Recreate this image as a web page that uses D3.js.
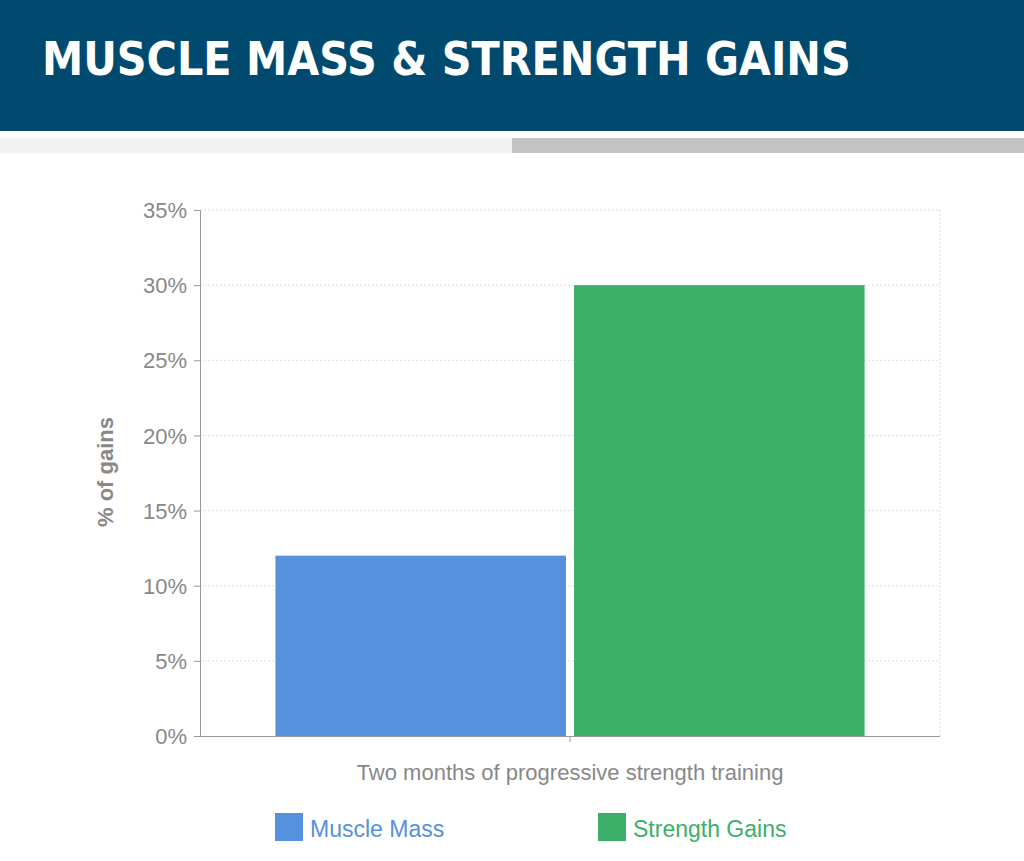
<!DOCTYPE html>
<html>
<head>
<meta charset="utf-8">
<script src="https://cdn.jsdelivr.net/npm/d3@7"></script>
<style>
  body { margin: 0; background: #fff; }
  svg { display: block; }
</style>
</head>
<body>
<svg id="chart" width="1024" height="861"></svg>
<script>
// data
const categories = ['Two months of progressive strength training'];
const seriesNames = ['Muscle Mass', 'Strength Gains'];
const seriesValues = [12, 30];
const seriesColors = ['#5591dc', '#3caf68'];
const yTicks = [0, 5, 10, 15, 20, 25, 30, 35];

const svg = d3.select('#chart');

// header
svg.append('rect').attr('x', 0).attr('y', 0).attr('width', 1024).attr('height', 131).attr('fill', '#004a70');
svg.append('rect').attr('x', 0).attr('y', 138).attr('width', 512).attr('height', 15).attr('fill', '#f2f2f2');
svg.append('rect').attr('x', 512).attr('y', 138).attr('width', 512).attr('height', 15).attr('fill', '#c4c4c4');
svg.append('text').attr('x', 42).attr('y', 75)
  .attr('fill', '#fff').attr('font-family', 'DejaVu Sans Condensed, sans-serif')
  .attr('font-weight', 'bold').attr('font-size', 46)
  .text('MUSCLE MASS & STRENGTH GAINS');

// scales
const x0 = d3.scaleBand().domain(categories).range([200, 940]).paddingOuter(0.128).paddingInner(0);
const x1 = d3.scaleBand().domain(seriesNames).range([0, x0.bandwidth()]).paddingInner(0.027);
const y = d3.scaleLinear().domain([0, 35]).range([736, 210]);

// grid
svg.append('g').selectAll('line').data(yTicks.slice(1)).join('line')
  .attr('x1', 200).attr('x2', 940).attr('y1', d => y(d)).attr('y2', d => y(d))
  .attr('stroke', '#ddd').attr('stroke-dasharray', '2,2');
svg.append('line').attr('x1', 940).attr('x2', 940).attr('y1', 210).attr('y2', 736)
  .attr('stroke', '#ddd').attr('stroke-dasharray', '2,2');

// bars
svg.append('g').selectAll('rect').data(seriesNames).join('rect')
  .attr('x', (d, i) => x0(categories[0]) + x1(d))
  .attr('width', x1.bandwidth())
  .attr('y', (d, i) => y(seriesValues[i]))
  .attr('height', (d, i) => y(0) - y(seriesValues[i]))
  .attr('fill', (d, i) => seriesColors[i]);

// y axis
const yAxis = svg.append('g').attr('transform', 'translate(200,0)')
  .call(d3.axisLeft(y).tickValues(yTicks).tickFormat(d => d + '%').tickSize(6));
yAxis.select('.domain').attr('stroke', '#999');
yAxis.selectAll('.tick line').attr('stroke', '#999');
yAxis.selectAll('text').attr('fill', '#888').attr('font-size', 22)
  .attr('font-family', 'Liberation Sans, Arial, sans-serif').attr('dx', -4).attr('dy', '0.35em');

// x axis
const xAxis = svg.append('g').attr('transform', 'translate(0,736)')
  .call(d3.axisBottom(x0).tickSize(6).tickSizeOuter(0));
xAxis.select('.domain').attr('stroke', '#999').attr('d', 'M200,0.5H940');
xAxis.selectAll('.tick line').attr('stroke', '#999');
xAxis.selectAll('text').attr('fill', '#888').attr('font-size', 22)
  .attr('font-family', 'Liberation Sans, Arial, sans-serif').attr('dy', '1.6em');

// y title
svg.append('text').attr('transform', 'translate(113,472) rotate(-90)')
  .attr('text-anchor', 'middle').attr('fill', '#888').attr('font-weight', 'bold')
  .attr('font-size', 22).attr('font-family', 'Liberation Sans, Arial, sans-serif')
  .text('% of gains');

// legend
const legendX = [275, 598];
const lg = svg.append('g').selectAll('g').data(seriesNames).join('g')
  .attr('transform', (d, i) => `translate(${legendX[i]},813)`);
lg.append('rect').attr('width', 28).attr('height', 28).attr('fill', (d, i) => seriesColors[i]);
lg.append('text').attr('x', 35).attr('y', 24).attr('font-size', 23)
  .attr('font-family', 'Liberation Sans, Arial, sans-serif')
  .attr('fill', (d, i) => seriesColors[i]).text(d => d);
</script>
</body>
</html>
